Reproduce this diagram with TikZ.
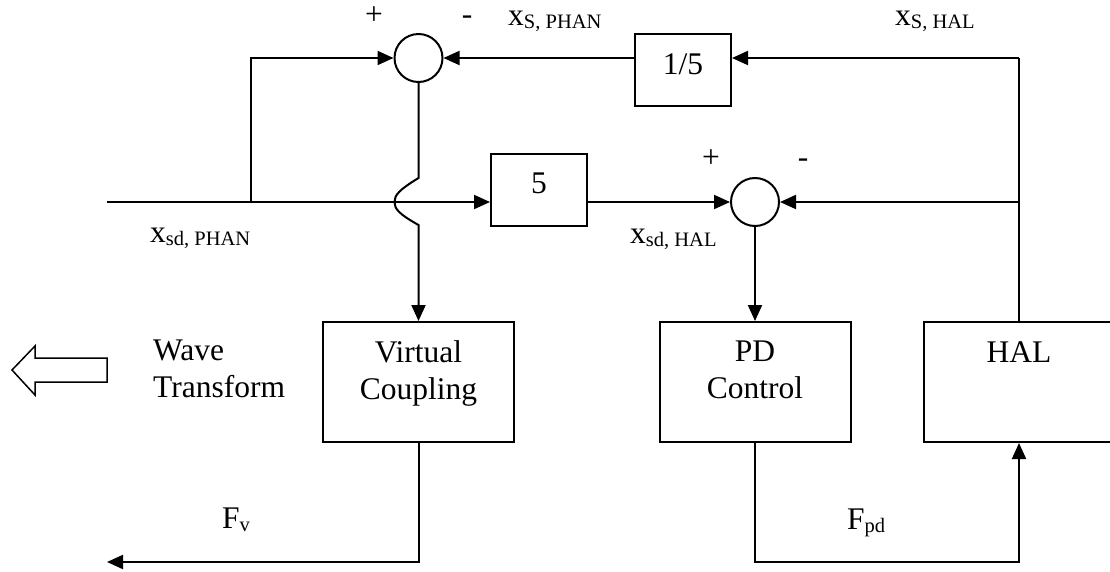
\documentclass[tikz,border=0pt]{standalone}
\usepackage{fontspec}
\setmainfont{Liberation Serif}
\usetikzlibrary{arrows.meta,calc}
\newcommand{\sbx}[1]{\raisebox{-3.5pt}{\fontsize{20.5}{21}\selectfont #1}}
\begin{document}
\begin{tikzpicture}[x=1pt,y=-1pt,
  every node/.style={font=\fontsize{31.5}{37}\selectfont, inner sep=0pt},
  wire/.style={line width=2pt},
  arr/.style={wire,-{Triangle[length=16pt,width=14pt]}},
  sumnode/.style={circle,draw,line width=2pt,minimum size=48pt},
  gainbox/.style={rectangle,draw,line width=2pt,minimum width=96pt,minimum height=72pt},
  blockbox/.style={rectangle,draw,line width=2pt,minimum width=191pt,minimum height=120pt},
  txt/.style={anchor=base},
  ltxt/.style={anchor=base west}]
\useasboundingbox (0,0) rectangle (1110,571);

% blocks
\node[sumnode] (sum1) at (418.5,58) {};
\node[sumnode] (sum2) at (755,202) {};
\node[gainbox] (g15) at (683,70) {};
\node[gainbox] (g5) at (539,190) {};
\node[blockbox] (vc) at (418.5,382) {};
\node[blockbox] (pd) at (755,382) {};
\node[blockbox] (hal) at (1019,382) {};

% texts in blocks
\node[txt] (t15) at (683,74) {1/5};
\node[txt] (t5) at (539,193) {5};
\node[txt] (tvc1) at (418.5,362) {Virtual};
\node[txt] (tvc2) at (418.5,399) {Coupling};
\node[txt] (tpd1) at (755,361) {PD};
\node[txt] (tpd2) at (755,398) {Control};
\node[txt] (thal) at (1019,362) {HAL};

% signs
\node[txt] (p1) at (374,24) {+};
\node[txt] (m1) at (467,24) {-};
\node[txt] (p2) at (711,167) {+};
\node[txt] (m2) at (803,167) {-};

% labels
\node[ltxt] (lxsphan) at (508,25) {x\sbx{S, PHAN}};
\node[ltxt] (lxshal) at (895,25) {x\sbx{S, HAL}};
\node[ltxt] (lxsdphan) at (150,242) {x\sbx{sd, PHAN}};
\node[ltxt] (lxsdhal) at (630,243) {x\sbx{sd, HAL}};
\node[ltxt] (lfv) at (222,528) {F\sbx{v}};
\node[ltxt] (lfpd) at (847,529) {F\sbx{pd}};
\node[ltxt] (lw1) at (153,360) {Wave};
\node[ltxt] (lw2) at (153,397) {Transform};

% coordinates
\coordinate (in) at (107,202);
\coordinate (br) at (251,202);
\coordinate (tr) at (1019,58);
\coordinate (mr) at (1019,202);
\coordinate (ja) at (418.5,178);
\coordinate (jb) at (418.5,225);
\coordinate (botr) at (1019,562);
\coordinate (out) at (107,562);

% connectors
\draw[arr] (in) -- (g5.west |- in);
\draw[arr] (br) |- (sum1.west);
\draw[wire] (hal.north) -- (tr);
\draw[arr] (tr) -- (g15.east |- tr);
\draw[arr] (mr) -- (sum2.east);
\draw[arr] (g15.west |- sum1) -- (sum1.east);
\draw[arr] (g5.east |- sum2) -- (sum2.west);
\draw[arr] (sum1.south) -- (ja) .. controls (399,190) and (394.5,195) .. (394.5,202)
   .. controls (394.5,209) and (399,214) .. (jb) -- (vc.north);
\draw[arr] (sum2.south) -- (pd.north);
\draw[arr] (pd.south) |- (botr) -- (hal.south);
\draw[arr] (vc.south) |- (out);

% hollow arrow
\draw[line width=1.5pt,line join=miter] (12,370) -- (35,346) -- (35,358) -- (107,358) -- (107,382) -- (35,382) -- (35,395) -- cycle;
\end{tikzpicture}
\end{document}
